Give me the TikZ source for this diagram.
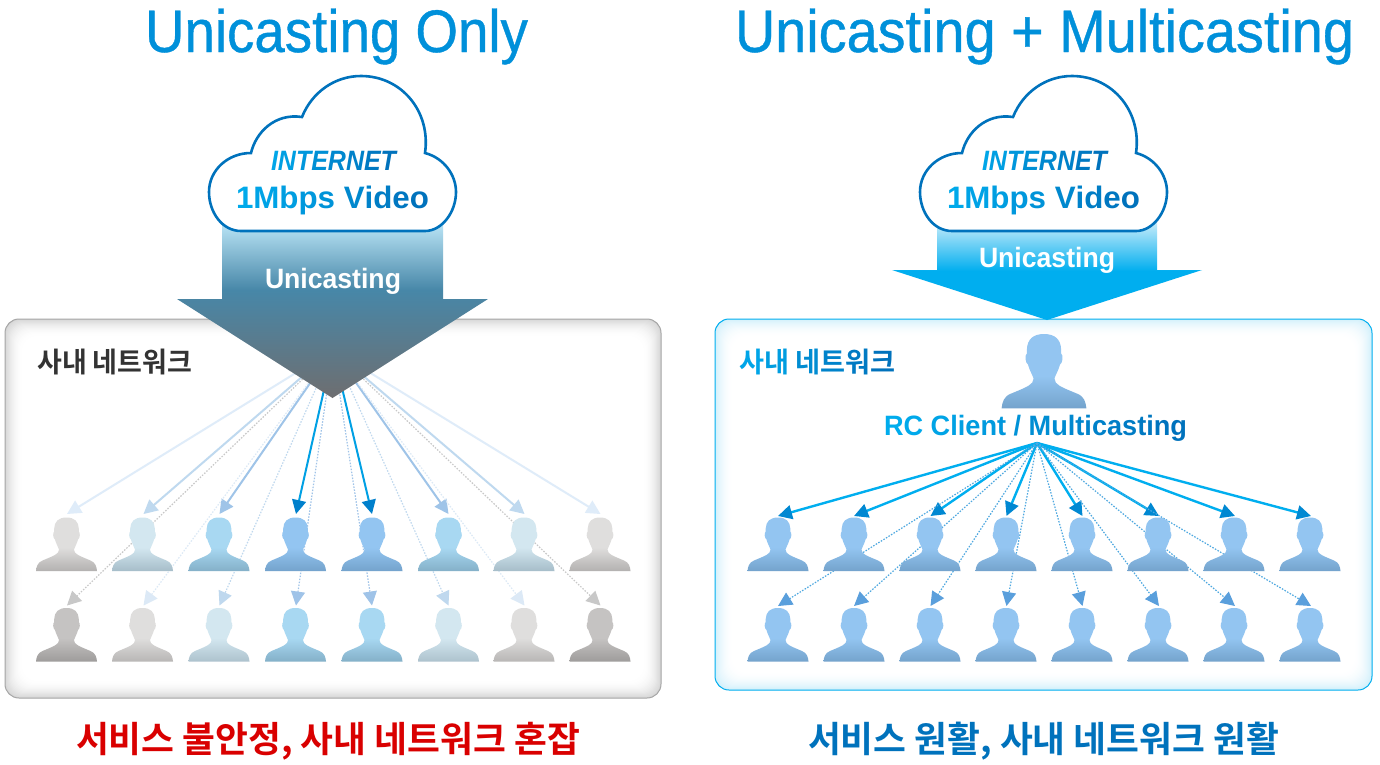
\documentclass[tikz,border=0pt]{standalone}
\usepackage{fontspec}
\usepackage{graphicx}
\usetikzlibrary{arrows.meta}
\setmainfont{Liberation Sans}
\newfontfamily\kr{Noto Sans CJK KR}[BoldFont={Noto Sans CJK KR Bold}]
\newfontfamily\ttl{Liberation Sans}[FakeBold=0.7]
\definecolor{gA}{HTML}{00AEEF}
\definecolor{gB}{HTML}{0072BC}
\definecolor{titleblue}{HTML}{0090DA}
\definecolor{panelgray}{HTML}{D6D6D6}
\definecolor{panelblue}{HTML}{D2F0FB}
\definecolor{baBot}{HTML}{6E6E70}
\definecolor{baMid}{HTML}{4787A8}
\definecolor{baTop}{HTML}{BCE6F7}
\definecolor{raTop}{HTML}{C8ECFA}
\definecolor{ptop}{HTML}{93C5F1}
\definecolor{pbot}{HTML}{74A3CC}
\ExplSyntaxOn
\NewDocumentCommand\gradtext{m}{
  \int_set:Nn \l_tmpa_int {\tl_count:n{#1}}
  \int_zero:N \l_tmpb_int
  \tl_map_inline:nn {#1}{
    \int_incr:N \l_tmpb_int
    {\exp_args:Ne \color{gA!\int_eval:n{100-100*\l_tmpb_int/\l_tmpa_int}!gB}##1}
  }
}
\ExplSyntaxOff
\newcommand{\fitw}[2]{\resizebox{#1pt}{\height}{#2}}
\pgfdeclareverticalshading{bigarrowL}{100bp}{color(0bp)=(baBot);color(25bp)=(baBot);color(55.7bp)=(baMid);color(75bp)=(baTop);color(100bp)=(baTop)}
\pgfdeclareverticalshading[ptop,pbot]{persongrad}{100bp}{color(0bp)=(pbot);color(25bp)=(pbot);color(47bp)=(ptop);color(100bp)=(ptop)}
\tikzset{
  person/.pic={
    \path[shading=persongrad]
      (0,0) .. controls (8,0) and (12,4) .. (12.3,11) -- (12.3,14)
      .. controls (14,15) and (13.5,21) .. (11.5,22)
      .. controls (10.5,26) and (8.5,29) .. (7.5,32)
      -- (8.5,35) .. controls (11,38) and (17,40) .. (24,43)
      .. controls (29,45) and (30,49) .. (30.5,53.5)
      -- (-30.5,53.5)
      .. controls (-30,49) and (-29,45) .. (-24,43)
      .. controls (-17,40) and (-11,38) .. (-8.5,35) -- (-7.5,32)
      .. controls (-8.5,29) and (-10.5,26) .. (-11.5,22)
      .. controls (-13.5,21) and (-14,15) .. (-12.3,14) -- (-12.3,11)
      .. controls (-12,4) and (-8,0) .. (0,0) -- cycle;
  },
  cloudshape/.pic={
    \draw[draw=gB,line width=2.6pt,fill=white]
      (241,231) .. controls (222,231) and (209,212) .. (209,192)
      .. controls (209,170) and (228,153) .. (251,153)
      .. controls (256,132) and (275,113) .. (302,117)
      .. controls (312,92) and (335,76) .. (361,76)
      .. controls (402,76) and (431,112) .. (425,153)
      .. controls (444,158) and (456,175) .. (456,192)
      .. controls (456,212) and (442,231) .. (425,231)
      -- cycle;
  },
  solidL/.style={line width=2pt},
  dotL/.style={line width=1.2pt,dash pattern=on 1.5pt off 1.5pt},
  titletext/.style={text=titleblue,font=\ttl\fontsize{60}{62}\selectfont,inner sep=0pt,anchor=base},
  labeltext/.style={font=\bfseries\fontsize{28}{30}\selectfont,inner sep=0pt,anchor=base},
  korean/.style={font=\kr\bfseries\fontsize{28}{30}\selectfont,inner sep=0pt,anchor=west},
  koreanbig/.style={font=\kr\bfseries\fontsize{36}{38}\selectfont,inner sep=0pt,anchor=center},
}
\newcommand{\arrowto}[5]{% from, to, style, line colour, head colour
  \draw[#3,draw=#4,-{Triangle[length=14pt,width=14pt,color=#5,fill=#5]}] (#1) -- (#2);}
\begin{document}
\begin{tikzpicture}[x=1pt,y=-1pt]
\useasboundingbox (0,0) rectangle (1380,764);
\fill[white] (0,0) rectangle (1380,764);
% panels
\fill[panelgray,rounded corners=14pt] (5,319) rectangle (661,698);
\foreach \i in {1,...,18}{
  \pgfmathsetmacro{\pc}{100*(1-\i/18)*(1-\i/18)}
  \fill[panelgray!\pc!white,rounded corners=14pt] (5+\i,319+\i) rectangle (661-\i,698-\i);
}
\draw[color=black!35,line width=1pt,rounded corners=14pt] (5,319) rectangle (661,698);
\fill[panelblue,rounded corners=14pt] (715,319) rectangle (1372,690);
\foreach \i in {1,...,18}{
  \pgfmathsetmacro{\pc}{100*(1-\i/18)*(1-\i/18)}
  \fill[panelblue!\pc!white,rounded corners=14pt] (715+\i,319+\i) rectangle (1372-\i,690-\i);
}
\draw[color=gA,line width=1pt,rounded corners=14pt] (715,319) rectangle (1372,690);
% coordinates
\coordinate (LO) at (333,350);
\coordinate (RO) at (1037,443);
\foreach \n/\x in {1/67,2/143.5,3/219.5,4/296,5/372,6/448.5,7/524.5,8/600.5}{
  \coordinate (La\n) at (\x,514);
  \coordinate (Lb\n) at (\x,605.5);
}
\foreach \n/\x in {1/778,2/854,3/930.5,4/1006.5,5/1082.5,6/1159,7/1235,8/1311}{
  \coordinate (Ra\n) at (\x,516);
  \coordinate (Rb\n) at (\x,606);
}
% left connectors
\foreach \n/\lcc/\hcc in {1/DFECF9/DFECF9,8/DFECF9/DFECF9,2/BFD9EF/BFD9EF,7/BFD9EF/BFD9EF,3/9FC4E8/9FC4E8,6/9FC4E8/9FC4E8,4/00A0E4/0080CC,5/00A0E4/0080CC}{
  \definecolor{lc}{HTML}{\lcc}\definecolor{hc}{HTML}{\hcc}
  \arrowto{LO}{La\n}{solidL}{lc}{hc}
}
\foreach \n/\lcc in {1/C8C8C8,8/C8C8C8,2/DCE9F6,7/DCE9F6,3/BFD8EE,6/BFD8EE,4/9FC3E8,5/9FC3E8}{
  \definecolor{lc}{HTML}{\lcc}
  \arrowto{LO}{Lb\n}{dotL}{lc}{lc}
}
% right connectors
\definecolor{lc}{HTML}{00AEEF}\definecolor{hc}{HTML}{0088D2}
\foreach \n in {1,...,8}{\arrowto{RO}{Ra\n}{solidL,line width=2.4pt}{lc}{hc}}
\definecolor{lc}{HTML}{4EA8E0}\definecolor{hc}{HTML}{5A9FDC}
\foreach \n in {1,...,8}{\arrowto{RO}{Rb\n}{dotL}{lc}{hc}}
% left people
\foreach \x/\ta/\ba/\tb/\bb in {
 66.5/DFDEDD/B3B1B0/C5C3C2/9E9C9B, 600/DFDEDD/B3B1B0/C5C3C2/9E9C9B,
 142.5/D3E7F0/A6BDC9/DFDEDD/B8B6B5, 524/D3E7F0/A6BDC9/DFDEDD/B8B6B5,
 219/A8D8F2/84B0C8/D3E7F0/ADC2CD, 448.5/A8D8F2/84B0C8/D3E7F0/ADC2CD,
 295.5/93C5F1/74A3CC/A8D8F2/84B0C8, 372/93C5F1/74A3CC/A8D8F2/84B0C8}{
  \definecolor{ptop}{HTML}{\ta}\definecolor{pbot}{HTML}{\ba}
  \pic at (\x,517.5) {person};
  \definecolor{ptop}{HTML}{\tb}\definecolor{pbot}{HTML}{\bb}
  \pic at (\x,608) {person};
}
% right people
\definecolor{ptop}{HTML}{93C5F1}\definecolor{pbot}{HTML}{74A3CC}
\foreach \x in {778,854,930,1006,1082,1158,1234,1310}{
  \pic at (\x,517.5) {person};
  \pic at (\x,608) {person};
}
\pic[scale=1.39] at (1044,334) {person};
% big arrows
\shade[shading=bigarrowL] (222,222) -- (443,222) -- (443,299) -- (488,299) -- (332.5,398) -- (177,299) -- (222,299) -- cycle;
\shade[top color=raTop,bottom color=gA,middle color=gA] (937,222) -- (1157,222) -- (1157,270) -- (1202,270) -- (1047,320) -- (892,270) -- (937,270) -- cycle;
% clouds
\pic at (0,0) {cloudshape};
\pic at (711,0) {cloudshape};
% titles
\node[titletext] (t1) at (336.5,52) {\fitw{383}{Unicasting Only}};
\node[titletext] (t2) at (1044.5,52) {\fitw{619}{Unicasting + Multicasting}};
% cloud text
\node[labeltext,font=\bfseries\itshape\fontsize{28}{30}\selectfont] (i1) at (333.5,170) {\fitw{125}{\gradtext{INTERNET}}};
\node[labeltext,font=\bfseries\itshape\fontsize{28}{30}\selectfont] (i2) at (1044.5,170) {\fitw{125}{\gradtext{INTERNET}}};
\node[labeltext,font=\bfseries\fontsize{31}{33}\selectfont] (v1) at (332.5,208.5) {\fitw{193}{\gradtext{1Mbps~Video}}};
\node[labeltext,font=\bfseries\fontsize{31}{33}\selectfont] (v2) at (1043.5,208.5) {\fitw{193}{\gradtext{1Mbps~Video}}};
\node[labeltext,text=white] (u1) at (333,288.5) {\fitw{136}{Unicasting}};
\node[labeltext,text=white] (u2) at (1047,267.5) {\fitw{136}{Unicasting}};
\node[labeltext] (rc) at (1035.5,435.5) {\fitw{303}{\gradtext{RC~Client~/~Multicasting}}};
% korean text
\node[korean,text=black!80] (k1) at (37,362) {\fitw{155}{사내 네트워크}};
\node[korean] (k2) at (739,362) {\fitw{156}{\gradtext{사내~네트워크}}};
\node[koreanbig,text=red!85!black] (b1) at (328,741) {\fitw{504}{서비스 불안정, 사내 네트워크 혼잡}};
\node[koreanbig,text=gB] (b2) at (1043.5,741) {\fitw{471}{서비스 원활, 사내 네트워크 원활}};
\end{tikzpicture}
\end{document}
